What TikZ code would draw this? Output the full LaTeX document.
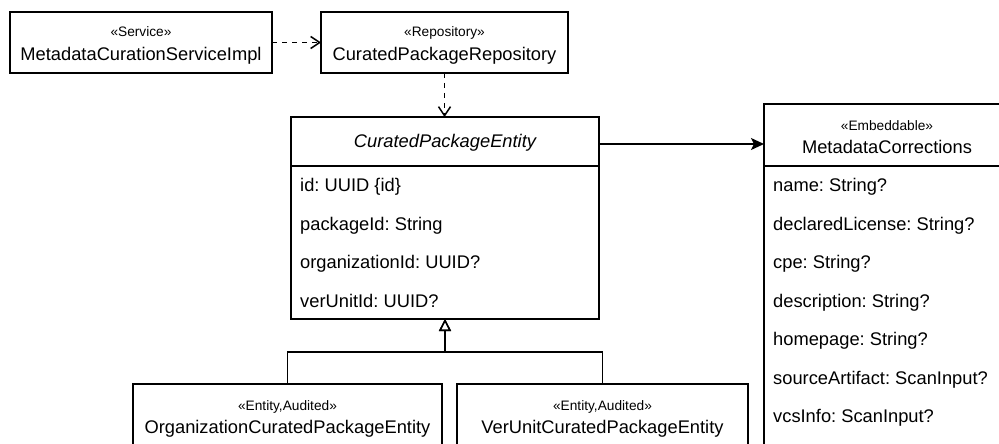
\documentclass[tikz,border=0pt]{standalone}
\usepackage{fontspec}
\setmainfont{Liberation Sans}
\usetikzlibrary{arrows.meta,calc}
\frenchspacing

\tikzset{
  umlbox/.style={draw=black, line width=1.6pt, rectangle, inner sep=0pt, outer sep=0pt, fill=white},
  ster/.style={font=\fontsize{13.7}{16}\selectfont, inner sep=0pt, anchor=base},
  cname/.style={font=\fontsize{18.3}{22}\selectfont, inner sep=0pt, anchor=base},
  attr/.style={font=\fontsize{18.3}{22}\selectfont, inner sep=0pt, anchor=base west},
  sepline/.style={line width=1.6pt},
  dep/.style={line width=1.5pt, dash pattern=on 5pt off 5pt,
    -{Straight Barb[length=9pt,width=12pt]}},
  assoc/.style={line width=1.6pt, -{Stealth[length=13pt,width=12pt,inset=3pt]}},
  gen/.style={line width=1.6pt, -{Triangle[open,length=12pt,width=12pt,fill=white]}}
}

\begin{document}
\begin{tikzpicture}[x=1pt,y=-1pt]
  \useasboundingbox (0,0) rectangle (999,444);
  \clip (0,0) rectangle (999,444);
  \fill[white] (0,0) rectangle (999,444);

  % service and repository
  \node[umlbox, minimum width=262pt, minimum height=61pt] (svc) at (141,42.5) {};
  \node[ster] (svcst) at (141,37) {«Service»};
  \node[cname] (svcnm) at (141,60) {MetadataCurationServiceImpl};

  \node[umlbox, minimum width=247pt, minimum height=61pt] (repo) at (444.5,42.5) {};
  \node[ster] (repost) at (444.5,37) {«Repository»};
  \node[cname] (reponm) at (444.5,60) {CuratedPackageRepository};

  % abstract entity
  \node[umlbox, minimum width=308pt, minimum height=202pt] (entity) at (445,218) {};
  \draw[sepline] (entity.west |- 0,166) -- (entity.east |- 0,166);
  \node[cname, font=\fontsize{18.3}{22}\selectfont\itshape] (enttitle) at (445,147.5) {CuratedPackageEntity};
  \node[attr] (a1) at (300,191.8) {id: UUID \{id\}};
  \node[attr] (a2) at (300,230.3) {packageId: String};
  \node[attr] (a3) at (300,268.8) {organizationId: UUID?};
  \node[attr] (a4) at (300,307.3) {verUnitId: UUID?};

  % embeddable corrections
  \node[umlbox, minimum width=246pt, minimum height=360pt, anchor=north west] (meta) at (764,104) {};
  \draw[sepline] (meta.west |- 0,166) -- (meta.east |- 0,166);
  \node[ster] (metast) at (887,130) {«Embeddable»};
  \node[cname] (metanm) at (887,153.5) {MetadataCorrections};
  \node[attr] (m1) at (773,191.8) {name: String?};
  \node[attr] (m2) at (773,230.3) {declaredLicense: String?};
  \node[attr] (m3) at (773,268.8) {cpe: String?};
  \node[attr] (m4) at (773,307.3) {description: String?};
  \node[attr] (m5) at (773,345.8) {homepage: String?};
  \node[attr] (m6) at (773,384.3) {sourceArtifact: ScanInput?};
  \node[attr] (m7) at (773,422.8) {vcsInfo: ScanInput?};

  % concrete entities
  \node[umlbox, minimum width=309pt, minimum height=66pt] (orgent) at (287.5,417) {};
  \node[ster] (orgst) at (287.5,410.5) {«Entity,Audited»};
  \node[cname] (orgnm) at (287.5,433.5) {OrganizationCuratedPackageEntity};

  \node[umlbox, minimum width=291pt, minimum height=66pt] (vuent) at (602.5,417) {};
  \node[ster] (vust) at (602.5,410.5) {«Entity,Audited»};
  \node[cname] (vunm) at (602.5,433.5) {VerUnitCuratedPackageEntity};

  % connectors
  \draw[dep] (svc) -- (repo);
  \draw[dep] (repo.south) -- (repo.south |- entity.north);
  \draw[assoc] ([yshift=-27pt]entity.north east) -- ([yshift=-27pt]entity.north east -| meta.west);
  \draw[gen] (orgent.north) -- ++(0,-32) -| (entity.south);
  \draw[gen] (vuent.north) -- ++(0,-32) -| (entity.south);
\end{tikzpicture}
\end{document}
